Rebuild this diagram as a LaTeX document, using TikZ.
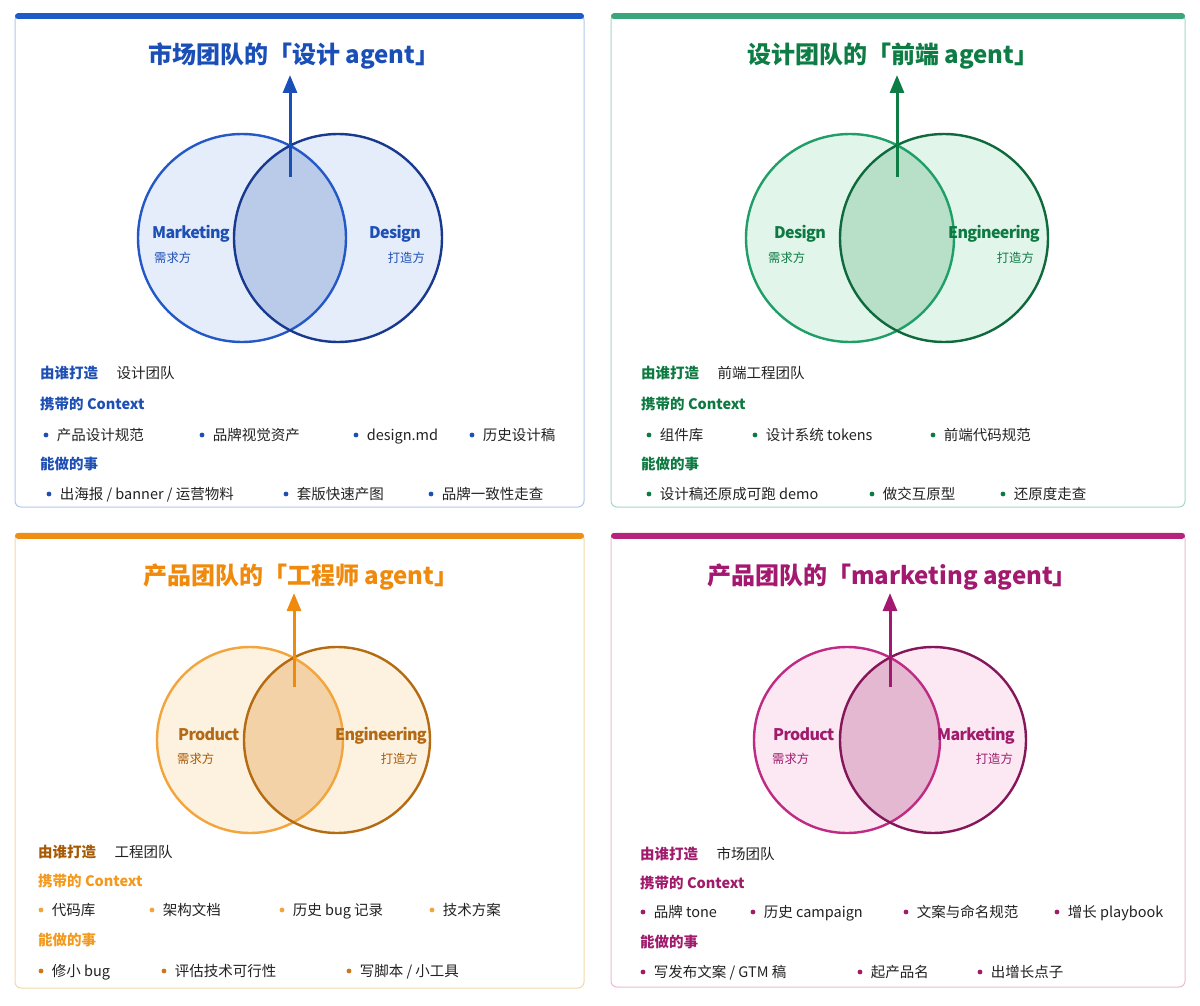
\documentclass[tikz,border=0pt]{standalone}
\usepackage{fontspec}
\setmainfont{Noto Sans CJK SC}
\usetikzlibrary{arrows.meta,positioning}

\definecolor{ink}{HTML}{222222}
\definecolor{bluT}{HTML}{1A4FB8}
\definecolor{bluBar}{HTML}{1D5BC9}
\definecolor{bluL}{HTML}{2358C6}
\definecolor{bluR}{HTML}{173A8E}
\definecolor{bluF}{HTML}{E5EDFA}
\definecolor{bluLens}{HTML}{BACAE9}
\definecolor{bluFrame}{HTML}{B3C7EC}
\definecolor{bluTxt}{HTML}{1D4FB5}
\definecolor{grnT}{HTML}{0E7C45}
\definecolor{grnBar}{HTML}{3BA67B}
\definecolor{grnL}{HTML}{1F9E67}
\definecolor{grnR}{HTML}{0E6A3C}
\definecolor{grnF}{HTML}{E2F5EB}
\definecolor{grnLens}{HTML}{B8E0C9}
\definecolor{grnFrame}{HTML}{A3D9BF}
\definecolor{grnTxt}{HTML}{0D7A42}
\definecolor{orgT}{HTML}{F08A0C}
\definecolor{orgBar}{HTML}{EE8E12}
\definecolor{orgL}{HTML}{F3A43C}
\definecolor{orgR}{HTML}{B56B12}
\definecolor{orgF}{HTML}{FDF1DF}
\definecolor{orgLens}{HTML}{F2D2A6}
\definecolor{orgFrame}{HTML}{F3D9A8}
\definecolor{orgHead}{HTML}{A75A06}
\definecolor{orgTxt}{HTML}{F39A1E}
\definecolor{orgLbl}{HTML}{B26A16}
\definecolor{orgDot}{HTML}{C9781C}
\definecolor{pnkT}{HTML}{A3196F}
\definecolor{pnkBar}{HTML}{B5237B}
\definecolor{pnkL}{HTML}{BF2A82}
\definecolor{pnkR}{HTML}{86165A}
\definecolor{pnkF}{HTML}{FBE8F2}
\definecolor{pnkLens}{HTML}{E3B8D0}
\definecolor{pnkFrame}{HTML}{E8BBD4}
\definecolor{pnkTxt}{HTML}{A11B6D}

\begin{document}
\begin{tikzpicture}[
    x=1pt, y=-1pt,
    node distance=8pt,
    frame/.style={
        draw,
        rounded corners=6pt,
        fill=white,
        line width=1pt
    },
    bar/.style={
        line width=6pt,
        line cap=round
    },
    title/.style={
        font=\fontsize{24}{28}\selectfont\bfseries,
        anchor=west,
        inner sep=0pt,
        text height=20pt,
        text depth=1.7pt
    },
    ring/.style={
        line width=2.4pt
    },
    side/.style={
        font=\fontsize{16}{19}\selectfont\bfseries\addfontfeatures{LetterSpace=-4},
        inner sep=0pt,
        text height=11.4pt,
        text depth=3.5pt
    },
    role/.style={
        font=\fontsize{12.3}{14}\selectfont,
        inner sep=0pt,
        text height=10.2pt,
        text depth=0.9pt
    },
    head/.style={
        font=\fontsize{14.5}{17}\selectfont\bfseries,
        anchor=west,
        inner sep=0pt,
        text height=12pt,
        text depth=1pt
    },
    item/.style={
        font=\fontsize{14.5}{17}\selectfont,
        text=ink,
        inner sep=0pt,
        text height=12pt,
        text depth=1pt
    },
    dot/.style={
        circle,
        inner sep=0pt,
        minimum size=4.8pt
    },
    arrow/.style={
        -{Triangle[length=18pt,width=14pt]},
        line width=3pt
    }
]

\fill[white] (0,0) rectangle (1200,1006);

\draw[frame, draw=bluFrame] (15,14) rectangle (584,507);
\draw[bar, bluBar] (18,16.5) -- (581,16.5);

\coordinate (bluCL) at (242,238);
\coordinate (bluCR) at (338,238);
\fill[bluF] (bluCL) circle (104) (bluCR) circle (104);
\begin{scope}
\clip (bluCL) circle (104);
\fill[bluLens] (bluCR) circle (104);
\end{scope}
\draw[ring, bluL] (bluCL) circle (104);
\draw[ring, bluR] (bluCR) circle (104);

\node[title, text=bluT] (bluTitle) at (148,54) {市场团队的「设计 agent」};
\coordinate (bluFoot) at (290,177);
\coordinate (bluTip) at (290,75);
\draw[arrow, bluT] (bluFoot) -- (bluTip);

\node[side, anchor=west, text=bluTxt] (bluNeed) at (152,235) {Marketing};
\node[role, anchor=west, text=bluTxt] (bluNeedR) at (154,258) {需求方};
\node[side, anchor=east, text=bluTxt] (bluMake) at (421,235) {Design};
\node[role, anchor=east, text=bluTxt] (bluMakeR) at (425,258) {打造方};

\node[head, text=bluTxt] (bluWho) at (40,373) {由谁打造};
\node[item, right=18pt of bluWho] (bluTeam) {设计团队};
\node[head, text=bluTxt] (bluCtx) at (40,404) {携带的 Context};
\node[dot, fill=bluTxt] (bluC1) at (46,435) {};
\node[item, right=of bluC1] (bluC1t) {产品设计规范};
\node[dot, fill=bluTxt] (bluC2) at (202,435) {};
\node[item, right=of bluC2] (bluC2t) {品牌视觉资产};
\node[dot, fill=bluTxt] (bluC3) at (356,435) {};
\node[item, right=of bluC3] (bluC3t) {design.md};
\node[dot, fill=bluTxt] (bluC4) at (472,435) {};
\node[item, right=of bluC4] (bluC4t) {历史设计稿};
\node[head, text=bluTxt] (bluCan) at (40,464) {能做的事};
\node[dot, fill=bluTxt] (bluD1) at (49,494) {};
\node[item, right=of bluD1] (bluD1t) {出海报 / banner / 运营物料};
\node[dot, fill=bluTxt] (bluD2) at (286,494) {};
\node[item, right=of bluD2] (bluD2t) {套版快速产图};
\node[dot, fill=bluTxt] (bluD3) at (431,494) {};
\node[item, right=of bluD3] (bluD3t) {品牌一致性走查};

\draw[frame, draw=grnFrame] (611,14) rectangle (1185,507);
\draw[bar, grnBar] (614,16.5) -- (1182,16.5);

\coordinate (grnCL) at (850,238);
\coordinate (grnCR) at (944,238);
\fill[grnF] (grnCL) circle (104) (grnCR) circle (104);
\begin{scope}
\clip (grnCL) circle (104);
\fill[grnLens] (grnCR) circle (104);
\end{scope}
\draw[ring, grnL] (grnCL) circle (104);
\draw[ring, grnR] (grnCR) circle (104);

\node[title, text=grnT] (grnTitle) at (747,54) {设计团队的「前端 agent」};
\coordinate (grnFoot) at (897,177);
\coordinate (grnTip) at (897,75);
\draw[arrow, grnT] (grnFoot) -- (grnTip);

\node[side, anchor=west, text=grnTxt] (grnNeed) at (774,235) {Design};
\node[role, anchor=west, text=grnTxt] (grnNeedR) at (768,258) {需求方};
\node[side, anchor=east, text=grnTxt] (grnMake) at (1040,235) {Engineering};
\node[role, anchor=east, text=grnTxt] (grnMakeR) at (1034,258) {打造方};

\node[head, text=grnTxt] (grnWho) at (641,373) {由谁打造};
\node[item, right=18pt of grnWho] (grnTeam) {前端工程团队};
\node[head, text=grnTxt] (grnCtx) at (641,404) {携带的 Context};
\node[dot, fill=grnTxt] (grnC1) at (649,435) {};
\node[item, right=of grnC1] (grnC1t) {组件库};
\node[dot, fill=grnTxt] (grnC2) at (755,435) {};
\node[item, right=of grnC2] (grnC2t) {设计系统 tokens};
\node[dot, fill=grnTxt] (grnC3) at (933,435) {};
\node[item, right=of grnC3] (grnC3t) {前端代码规范};
\node[head, text=grnTxt] (grnCan) at (641,464) {能做的事};
\node[dot, fill=grnTxt] (grnD1) at (649,494) {};
\node[item, right=of grnD1] (grnD1t) {设计稿还原成可跑 demo};
\node[dot, fill=grnTxt] (grnD2) at (872,494) {};
\node[item, right=of grnD2] (grnD2t) {做交互原型};
\node[dot, fill=grnTxt] (grnD3) at (1003,494) {};
\node[item, right=of grnD3] (grnD3t) {还原度走查};

\draw[frame, draw=orgFrame] (15,533) rectangle (584,988);
\draw[bar, orgBar] (18,535.5) -- (581,535.5);

\coordinate (orgCL) at (250,740);
\coordinate (orgCR) at (337,740);
\fill[orgF] (orgCL) circle (93) (orgCR) circle (93);
\begin{scope}
\clip (orgCL) circle (93);
\fill[orgLens] (orgCR) circle (93);
\end{scope}
\draw[ring, orgL] (orgCL) circle (93);
\draw[ring, orgR] (orgCR) circle (93);

\node[title, text=orgT] (orgTitle) at (143,575) {产品团队的「工程师 agent」};
\coordinate (orgFoot) at (294,687);
\coordinate (orgTip) at (294,593);
\draw[arrow, orgT] (orgFoot) -- (orgTip);

\node[side, anchor=west, text=orgLbl] (orgNeed) at (178,737) {Product};
\node[role, anchor=west, text=orgHead] (orgNeedR) at (177,759) {需求方};
\node[side, anchor=east, text=orgLbl] (orgMake) at (427,737) {Engineering};
\node[role, anchor=east, text=orgHead] (orgMakeR) at (418,759) {打造方};

\node[head, text=orgHead] (orgWho) at (38,852) {由谁打造};
\node[item, right=18pt of orgWho] (orgTeam) {工程团队};
\node[head, text=orgTxt] (orgCtx) at (38,881) {携带的 Context};
\node[dot, fill=orgL] (orgC1) at (41,910) {};
\node[item, right=of orgC1] (orgC1t) {代码库};
\node[dot, fill=orgL] (orgC2) at (152,910) {};
\node[item, right=of orgC2] (orgC2t) {架构文档};
\node[dot, fill=orgL] (orgC3) at (282,910) {};
\node[item, right=of orgC3] (orgC3t) {历史 bug 记录};
\node[dot, fill=orgL] (orgC4) at (432,910) {};
\node[item, right=of orgC4] (orgC4t) {技术方案};
\node[head, text=orgTxt] (orgCan) at (38,940) {能做的事};
\node[dot, fill=orgDot] (orgD1) at (41,971) {};
\node[item, right=of orgD1] (orgD1t) {修小 bug};
\node[dot, fill=orgDot] (orgD2) at (164,971) {};
\node[item, right=of orgD2] (orgD2t) {评估技术可行性};
\node[dot, fill=orgDot] (orgD3) at (349,971) {};
\node[item, right=of orgD3] (orgD3t) {写脚本 / 小工具};

\draw[frame, draw=pnkFrame] (611,533) rectangle (1185,987);
\draw[bar, pnkBar] (614,535.5) -- (1182,535.5);

\coordinate (pnkCL) at (847,740);
\coordinate (pnkCR) at (933,740);
\fill[pnkF] (pnkCL) circle (93) (pnkCR) circle (93);
\begin{scope}
\clip (pnkCL) circle (93);
\fill[pnkLens] (pnkCR) circle (93);
\end{scope}
\draw[ring, pnkL] (pnkCL) circle (93);
\draw[ring, pnkR] (pnkCR) circle (93);

\node[title, text=pnkT] (pnkTitle) at (707,575) {产品团队的「marketing agent」};
\coordinate (pnkFoot) at (890,687);
\coordinate (pnkTip) at (890,593);
\draw[arrow, pnkT] (pnkFoot) -- (pnkTip);

\node[side, anchor=west, text=pnkTxt] (pnkNeed) at (773,737) {Product};
\node[role, anchor=west, text=pnkTxt] (pnkNeedR) at (772,759) {需求方};
\node[side, anchor=east, text=pnkTxt] (pnkMake) at (1015,737) {Marketing};
\node[role, anchor=east, text=pnkTxt] (pnkMakeR) at (1013,759) {打造方};

\node[head, text=pnkTxt] (pnkWho) at (640,854) {由谁打造};
\node[item, right=18pt of pnkWho] (pnkTeam) {市场团队};
\node[head, text=pnkTxt] (pnkCtx) at (640,883) {携带的 Context};
\node[dot, fill=pnkTxt] (pnkC1) at (643,912) {};
\node[item, right=of pnkC1] (pnkC1t) {品牌 tone};
\node[dot, fill=pnkTxt] (pnkC2) at (753,912) {};
\node[item, right=of pnkC2] (pnkC2t) {历史 campaign};
\node[dot, fill=pnkTxt] (pnkC3) at (906,912) {};
\node[item, right=of pnkC3] (pnkC3t) {文案与命名规范};
\node[dot, fill=pnkTxt] (pnkC4) at (1057,912) {};
\node[item, right=of pnkC4] (pnkC4t) {增长 playbook};
\node[head, text=pnkTxt] (pnkCan) at (640,942) {能做的事};
\node[dot, fill=pnkTxt] (pnkD1) at (643,972) {};
\node[item, right=of pnkD1] (pnkD1t) {写发布文案 / GTM 稿};
\node[dot, fill=pnkTxt] (pnkD2) at (860,972) {};
\node[item, right=of pnkD2] (pnkD2t) {起产品名};
\node[dot, fill=pnkTxt] (pnkD3) at (980,972) {};
\node[item, right=of pnkD3] (pnkD3t) {出增长点子};

\end{tikzpicture}
\end{document}
